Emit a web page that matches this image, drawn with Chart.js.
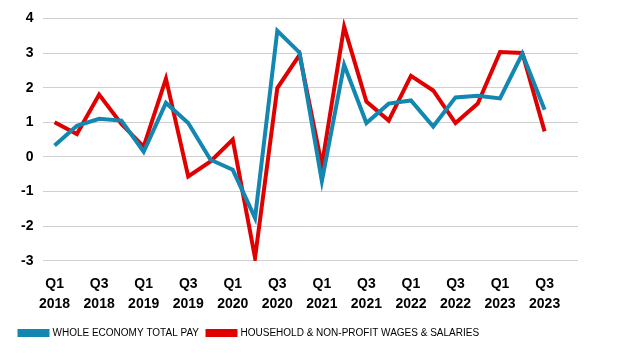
<!DOCTYPE html>
<html>
<head>
<meta charset="utf-8">
<script src="https://cdn.jsdelivr.net/npm/chart.js@4"></script>
<style>
  html, body { margin: 0; padding: 0; background: #fff; }
  #wrap { width: 629px; height: 360px; }
</style>
</head>
<body>
<div id="wrap"><canvas id="payChart"></canvas></div>
<script>
const quarters = ['Q1 2018', 'Q2 2018', 'Q3 2018', 'Q4 2018', 'Q1 2019', 'Q2 2019', 'Q3 2019', 'Q4 2019',
  'Q1 2020', 'Q2 2020', 'Q3 2020', 'Q4 2020', 'Q1 2021', 'Q2 2021', 'Q3 2021', 'Q4 2021',
  'Q1 2022', 'Q2 2022', 'Q3 2022', 'Q4 2022', 'Q1 2023', 'Q2 2023', 'Q3 2023', 'Q4 2023'];
const wholeEconomy = [0.33, 0.9, 1.1, 1.05, 0.15, 1.56, 0.98, -0.08,
  -0.37, -1.76, 3.64, 3.01, -0.7, 2.66, 0.98, 1.54,
  1.63, 0.88, 1.72, 1.77, 1.69, 2.98, 1.36, null];
const householdWages = [1.0, 0.66, 1.8, 0.95, 0.3, 2.26, -0.56, -0.13,
  0.5, -2.91, 1.99, 2.95, -0.24, 3.76, 1.6, 1.05,
  2.34, 1.92, 0.98, 1.54, 3.03, 3.0, 0.74, null];
const yTicks = [-3, -2, -1, 0, 1, 2, 3, 4];

const ctx = document.getElementById('payChart').getContext('2d');
new Chart(ctx, {
  type: 'line',
  data: {
    labels: quarters,
    datasets: [{
      label: 'WHOLE ECONOMY TOTAL PAY',
      data: wholeEconomy,
      borderColor: '#1287b1',
      backgroundColor: '#1287b1',
      borderWidth: 4,
      pointRadius: 0,
      tension: 0
    },
    {
      label: 'HOUSEHOLD & NON-PROFIT WAGES & SALARIES',
      data: householdWages,
      borderColor: '#e00000',
      backgroundColor: '#e00000',
      borderWidth: 4,
      pointRadius: 0,
      tension: 0
    }]
  },
  options: {
    responsive: true,
    maintainAspectRatio: false,
    animation: false,
    layout: {
      padding: { left: 11, right: 51, top: 4, bottom: 12 }
    },
    scales: {
      x: {
        offset: true,
        grid: { display: false },
        border: { display: false },
        ticks: {
          autoSkip: false,
          maxRotation: 0,
          color: '#000',
          padding: 5,
          font: { family: 'Liberation Sans', size: 14, weight: 'bold', lineHeight: 1.45 },
          callback: function(value, index) {
            return index % 2 === 0 ? quarters[index].split(' ') : '';
          }
        }
      },
      y: {
        min: yTicks[0],
        max: yTicks[yTicks.length - 1],
        afterBuildTicks: function(axis) {
          axis.ticks = yTicks.map(v => ({ value: v }));
        },
        grid: { color: '#d0d0d0', lineWidth: 1, drawTicks: false },
        border: { display: false },
        ticks: {
          color: '#000',
          padding: 10,
          font: { family: 'Liberation Sans', size: 14, weight: 'bold' }
        }
      }
    },
    plugins: {
      legend: {
        position: 'bottom',
        align: 'start',
        labels: {
          color: '#000',
          boxWidth: 28,
          boxHeight: 4,
          padding: 8.5,
          font: { family: 'Liberation Sans', size: 10 }
        }
      },
      tooltip: { enabled: false }
    }
  }
});
</script>
</body>
</html>
